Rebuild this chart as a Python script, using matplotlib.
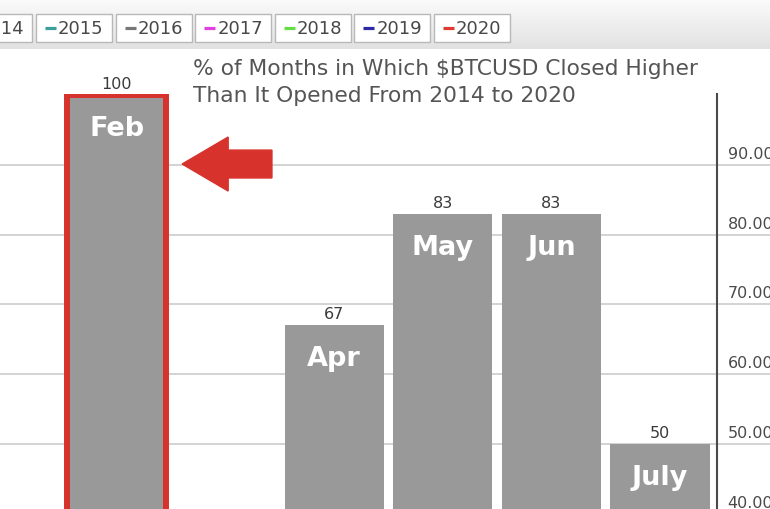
import numpy as np
import matplotlib
matplotlib.use('Agg')
from matplotlib import pyplot as plt
from matplotlib.patches import Rectangle, FancyArrow

# Jan and Mar sit below the visible crop (< 40), values are estimates
months = ['Jan', 'Feb', 'Mar', 'Apr', 'May', 'Jun', 'July']
pct_higher = [33, 100, 17, 67, 83, 83, 50]
highlight_month = 'Feb'
grid_values = [40, 50, 60, 70, 80, 90]

legend_years = ['2014', '2015', '2016', '2017', '2018', '2019', '2020']
legend_colors = ['#e8a030', '#3a9e9a', '#777777', '#e040e0', '#66dd44', '#2a2aa8', '#e03a34']

title_lines = ['% of Months in Which $BTCUSD Closed Higher',
               'Than It Opened From 2014 to 2020']

BAR_GREY = '#999999'
RED = '#d8322c'
PX = 0.72  # points per pixel at dpi 100


def draw_legend_strip(fig):
    """Gradient toolbar with year boxes across the top."""
    lax = fig.add_axes([0, 1 - 50 / 510, 1, 50 / 510])
    grad = np.linspace(0, 1, 50).reshape(-1, 1)
    lax.imshow(grad, cmap=matplotlib.colors.LinearSegmentedColormap.from_list(
        'strip', ['#fbfbfb', '#e2e2e2']), aspect='auto', extent=(0, 770, 50, 0))
    lax.set_xlim(0, 770)
    lax.set_ylim(50, 0)
    lax.axis('off')
    for i, (year, col) in enumerate(zip(legend_years, legend_colors)):
        left = -43.6 + 79.6 * i
        lax.add_patch(Rectangle((left, 15), 76, 28, facecolor='white',
                                edgecolor='#b8b8b8', lw=1))
        lax.plot([left + 9, left + 20], [29, 29], color=col, lw=2.3,
                 solid_capstyle='butt')
        lax.text(left + 22, 29.5, year, va='center', ha='left', fontsize=13,
                 color='#484848', family='DejaVu Sans')


def main():
    fig = plt.figure(figsize=(7.7, 5.1), dpi=100)
    ax = fig.add_axes([0, 0, 1, 415 / 510])
    x = np.arange(len(months))

    for v in grid_values:
        ax.axhline(v, color='#cccccc', lw=1.2, zorder=0)
        ax.annotate(f'{v:.2f}', (0.945, v), xycoords=ax.get_yaxis_transform(),
                    xytext=(0, 7 * PX), textcoords='offset points',
                    ha='left', va='baseline', fontsize=11.5, color='#4a4a4a',
                    annotation_clip=False)

    bars = ax.bar(x, pct_higher, width=0.912, color=BAR_GREY, zorder=2)
    hi = months.index(highlight_month)
    bars[hi].set_edgecolor(RED)
    bars[hi].set_linewidth(4.3)
    bars[hi].set_joinstyle('miter')

    for xi, name, val in zip(x, months, pct_higher):
        ax.annotate(f'{val}', (xi, val), xytext=(0, 7 * PX), textcoords='offset points',
                    ha='center', va='baseline', fontsize=11.5, color='#3a3a3a', zorder=3)
        ax.annotate(name, (xi, val), xytext=(0, -40 * PX), textcoords='offset points',
                    ha='center', va='baseline', fontsize=19.5, fontweight='bold',
                    color='white', zorder=3)

    # right value axis line
    ax.plot([0.931, 0.931], [0, 1], transform=ax.transAxes, color='#4a4a4a',
            lw=1.5, zorder=4, clip_on=False)

    # red arrow pointing at the highlighted bar
    ax.add_patch(FancyArrow(hi + 1.427, 90.14, -0.827, 0, width=4.0,
                            head_width=7.75, head_length=0.424,
                            length_includes_head=True, color=RED, zorder=4))

    ax.set_xlim(-0.077, 7.013)
    ax.set_ylim(40.68, 100.18)
    ax.axis('off')

    for line, yc in zip(title_lines, [69, 96]):
        fig.text(193 / 770, 1 - yc / 510, line, ha='left', va='center',
                 fontsize=15.7, color='#555555', family='DejaVu Sans')

    draw_legend_strip(fig)
    fig.savefig('out.png', dpi=100, facecolor='white')


if __name__ == '__main__':
    main()
